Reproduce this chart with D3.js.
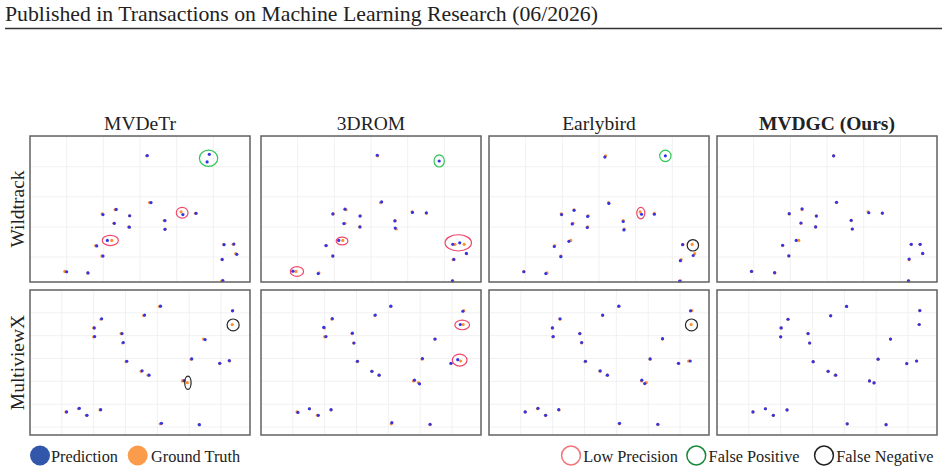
<!DOCTYPE html>
<html>
<head>
<meta charset="utf-8">
<script src="https://cdn.jsdelivr.net/npm/d3@7"></script>
<style>
	body{margin:0;background:#fff;}
	svg text{font-family:"Liberation Serif","DejaVu Serif",serif;fill:#222;}
</style>
</head>
<body>
<svg id="vis" width="948" height="472"></svg>
<script>
// columns / rows
var methods = ['MVDeTr','3DROM','Earlybird','MVDGC (Ours)'];
var datasets = ['Wildtrack','MultiviewX'];
var headerText = 'Published in Transactions on Machine Learning Research (06/2026)';

// ground plane grid (same units as the points)
var wtDomainX = [-1,5], wtDomainY = [-0.83,4.02];
var mxDomainX = [-1,5.91], mxDomainY = [-0.35,6.0];
var wtTicksX = [0,1,2,3,4,5], wtTicksY = [0,1,2,3,4];
var mxTicksX = [0,1,2,3,4,5], mxTicksY = [0,1,2,3,4,5];

// Wildtrack ground truth
var wtGT = [[2.18,3.36],[2.26,1.81],[1.32,1.57],[0.97,1.43],[1.71,1.37],[1.29,1.12],[1.69,1.00],[2.66,1.21],[2.69,0.93],[3.12,1.50],[3.51,1.45],[1.23,0.55],[0.79,0.38],[0.96,0.03],[-0.05,-0.48],[0.58,-0.53],[4.29,0.42],[4.54,0.42],[4.61,0.11],[4.24,-0.09],[4.23,-0.79]];
// Wildtrack predictions
var wtPredMVDeTr = [[2.20,3.37],[3.89,3.41],[3.83,3.16],[2.30,1.81],[1.35,1.58],[0.99,1.41],[1.72,1.37],[1.30,1.12],[1.71,0.99],[2.68,1.21],[2.68,0.92],[3.17,1.41],[3.53,1.45],[1.11,0.55],[0.82,0.37],[0.99,0.03],[0.00,-0.49],[0.58,-0.53],[4.29,0.41],[4.56,0.43],[4.64,0.09],[4.24,-0.08],[4.26,-0.78]];
var wtPred3DROM = [[2.17,3.38],[3.86,3.19],[2.29,1.83],[1.29,1.59],[0.96,1.43],[1.70,1.36],[1.26,1.11],[1.70,1.00],[2.65,1.20],[2.66,0.96],[3.13,1.48],[3.51,1.47],[1.12,0.55],[0.77,0.38],[0.96,0.03],[-0.13,-0.47],[0.56,-0.55],[4.23,0.42],[4.42,0.47],[4.60,0.12],[4.26,-0.08],[4.22,-0.79]];
var wtPredEarlybird = [[2.16,3.32],[3.81,3.36],[2.27,1.78],[1.32,1.55],[0.98,1.41],[1.69,1.35],[1.27,1.10],[1.68,0.98],[2.66,1.18],[2.68,0.90],[3.16,1.42],[3.51,1.42],[1.18,0.52],[0.78,0.35],[0.96,0.01],[-0.05,-0.49],[0.55,-0.55],[4.28,0.41],[4.57,0.05],[4.22,-0.12],[4.20,-0.80]];
var wtPredMVDGC = [[2.18,3.36],[2.26,1.82],[1.32,1.60],[0.97,1.44],[1.71,1.36],[1.29,1.13],[1.69,1.00],[2.66,1.22],[2.69,0.93],[3.14,1.47],[3.51,1.46],[1.16,0.55],[0.79,0.39],[0.96,0.04],[-0.06,-0.48],[0.57,-0.52],[4.30,0.42],[4.54,0.42],[4.61,0.12],[4.24,-0.07],[4.22,-0.79]];
// Wildtrack highlighted errors: kind, x, y, rx, ry
var wtMarksMVDeTr = [['fp',3.87,3.28,0.25,0.27],['lp',3.15,1.47,0.16,0.18],['lp',1.19,0.55,0.22,0.17]];
var wtMarks3DROM = [['fp',3.86,3.19,0.14,0.20],['lp',1.21,0.53,0.16,0.13],['lp',-0.02,-0.48,0.18,0.16],['lp',4.38,0.47,0.36,0.27]];
var wtMarksEarlybird = [['fp',3.81,3.36,0.155,0.19],['lp',3.14,1.46,0.11,0.19],['fn',4.56,0.39,0.155,0.19]];
var wtMarksMVDGC = [];

// MultiviewX ground truth
var mxGT = [[3.07,5.28],[5.37,5.10],[2.57,4.88],[1.23,4.72],[1.00,4.34],[5.35,4.49],[1.86,4.09],[1.00,3.95],[1.91,3.68],[4.45,3.85],[2.02,2.86],[4.06,2.97],[4.96,2.78],[5.27,2.89],[2.49,2.44],[2.71,2.27],[3.79,2.02],[3.94,1.94],[0.13,0.66],[0.52,0.80],[0.77,0.51],[1.20,0.75],[3.09,0.14],[4.31,0.10]];
// MultiviewX predictions
var mxPredMVDeTr = [[3.10,5.29],[5.36,5.09],[2.60,4.90],[1.25,4.74],[1.02,4.34],[1.89,4.09],[1.03,3.96],[1.93,3.70],[4.50,3.83],[2.04,2.88],[4.08,2.98],[4.96,2.79],[5.26,2.91],[2.52,2.46],[2.74,2.27],[3.84,2.03],[0.15,0.66],[0.55,0.82],[0.79,0.51],[1.22,0.76],[3.13,0.16],[4.32,0.10]];
var mxPred3DROM = [[3.08,5.29],[5.34,5.07],[2.59,4.90],[1.24,4.75],[0.97,4.36],[5.26,4.49],[1.87,4.11],[1.04,3.96],[1.92,3.68],[4.47,3.85],[2.03,2.88],[4.07,3.00],[4.97,2.79],[5.18,2.95],[2.48,2.44],[2.71,2.27],[3.82,2.05],[3.98,1.89],[0.16,0.64],[0.52,0.80],[0.80,0.51],[1.20,0.76],[3.11,0.19],[4.31,0.12]];
var mxPredEarlybird = [[3.08,5.29],[5.33,5.09],[2.57,4.90],[1.23,4.74],[0.99,4.34],[1.85,4.09],[1.02,3.96],[1.91,3.70],[4.45,3.87],[2.03,2.88],[4.06,2.98],[4.95,2.79],[5.32,2.89],[2.49,2.46],[2.72,2.27],[3.80,2.05],[3.89,1.90],[0.14,0.66],[0.54,0.82],[0.78,0.51],[1.19,0.76],[3.10,0.16],[4.30,0.12]];
var mxPredMVDGC = [[3.07,5.28],[5.37,5.10],[2.57,4.87],[1.23,4.72],[1.02,4.34],[5.35,4.49],[1.86,4.09],[1.00,3.95],[1.91,3.68],[4.45,3.85],[2.02,2.86],[4.06,2.97],[4.96,2.78],[5.27,2.89],[2.49,2.44],[2.73,2.27],[3.79,2.02],[3.93,1.93],[0.13,0.66],[0.52,0.80],[0.77,0.51],[1.20,0.75],[3.09,0.14],[4.31,0.10]];
// MultiviewX highlighted errors
var mxMarksMVDeTr = [['fn',5.38,4.47,0.19,0.26],['fn',3.96,1.94,0.10,0.29]];
var mxMarks3DROM = [['lp',5.32,4.47,0.23,0.21],['lp',5.24,2.93,0.23,0.26]];
var mxMarksEarlybird = [['fn',5.36,4.47,0.19,0.26]];
var mxMarksMVDGC = [];

// legend
var legendFilled = ['Prediction','Ground Truth'];
var legendRings = ['Low Precision','False Positive','False Negative'];

window.onload = function(){

	return {

		panel_left:[30,261,489,717],
		panel_w:220,
		row_top:[136,290],
		row_h:[146,145],

		dot_r:1.6,

		col:{pred:'#3434e4',gt:'#ff8f2e',lp:'#f0476a',fp:'#2fc656',fn:'#262626'},

		init:function(){
			var self = this;
			var rows = [
				{gt:wtGT,preds:[wtPredMVDeTr,wtPred3DROM,wtPredEarlybird,wtPredMVDGC],
					marks:[wtMarksMVDeTr,wtMarks3DROM,wtMarksEarlybird,wtMarksMVDGC],
					dx:wtDomainX,dy:wtDomainY,tx:wtTicksX,ty:wtTicksY},
				{gt:mxGT,preds:[mxPredMVDeTr,mxPred3DROM,mxPredEarlybird,mxPredMVDGC],
					marks:[mxMarksMVDeTr,mxMarks3DROM,mxMarksEarlybird,mxMarksMVDGC],
					dx:mxDomainX,dy:mxDomainY,tx:mxTicksX,ty:mxTicksY}
			];
			var panels = [];
			rows.forEach(function(r,ri){
				methods.forEach(function(m,mi){
					panels.push({row:ri,col:mi,gt:r.gt,pred:r.preds[mi],marks:r.marks[mi],
						dx:r.dx,dy:r.dy,tx:r.tx,ty:r.ty});
				});
			});
			self.generate(panels);
		},
		generate:function(panels){
			var self = this;
			var svg = d3.select('#vis');

			// page header
			svg.append('text')
				.attr('x',5)
				.attr('y',21)
				.attr('font-size',21.5)
				.attr('textLength',593)
				.attr('lengthAdjust','spacingAndGlyphs')
				.text(headerText);
			svg.append('line')
				.attr('x1',5).attr('x2',942)
				.attr('y1',28.5).attr('y2',28.5)
				.attr('stroke','#333')
				.attr('stroke-width',1.5);

			// column titles
			svg.selectAll('text.colTitle')
				.data(methods)
				.enter().append('text')
				.classed('colTitle',true)
				.attr('x',function(d,i){ return self.panel_left[i] +self.panel_w/2; })
				.attr('y',130)
				.attr('text-anchor','middle')
				.attr('font-size',19.5)
				.attr('font-weight',function(d,i){ return i === methods.length -1 ? 'bold' : 'normal'; })
				.text(function(d){ return d; });

			// row titles
			svg.selectAll('text.rowTitle')
				.data(datasets)
				.enter().append('text')
				.classed('rowTitle',true)
				.attr('transform',function(d,i){
					return 'translate(23.5,' +(self.row_top[i] +self.row_h[i]/2) +') rotate(-90)';
				})
				.attr('text-anchor','middle')
				.attr('font-size',19.5)
				.text(function(d){ return d; });

			var g = svg.selectAll('g.panel')
				.data(panels)
				.enter().append('g')
				.classed('panel',true);

			g.each(function(p){
				var pg = d3.select(this);
				var x0 = self.panel_left[p.col],
					y0 = self.row_top[p.row],
					h = self.row_h[p.row];
				var x = d3.scaleLinear().domain(p.dx).range([x0,x0 +self.panel_w]);
				var y = d3.scaleLinear().domain(p.dy).range([y0 +h,y0]);

				pg.append('rect')
					.attr('x',x0).attr('y',y0)
					.attr('width',self.panel_w).attr('height',h)
					.attr('fill','#fff');

				pg.selectAll('line.gx')
					.data(p.tx)
					.enter().append('line')
					.classed('gx',true)
					.attr('x1',function(d){ return x(d); })
					.attr('x2',function(d){ return x(d); })
					.attr('y1',y0).attr('y2',y0 +h)
					.attr('stroke','#f1f1f1')
					.attr('stroke-width',1);
				pg.selectAll('line.gy')
					.data(p.ty)
					.enter().append('line')
					.classed('gy',true)
					.attr('y1',function(d){ return y(d); })
					.attr('y2',function(d){ return y(d); })
					.attr('x1',x0).attr('x2',x0 +self.panel_w)
					.attr('stroke','#f1f1f1')
					.attr('stroke-width',1);

				pg.selectAll('circle.gt')
					.data(p.gt)
					.enter().append('circle')
					.classed('gt',true)
					.attr('cx',function(d){ return x(d[0]); })
					.attr('cy',function(d){ return y(d[1]); })
					.attr('r',self.dot_r)
					.attr('fill',self.col.gt);
				pg.selectAll('circle.pred')
					.data(p.pred)
					.enter().append('circle')
					.classed('pred',true)
					.attr('cx',function(d){ return x(d[0]); })
					.attr('cy',function(d){ return y(d[1]); })
					.attr('r',self.dot_r)
					.attr('fill',self.col.pred);

				pg.selectAll('ellipse.mark')
					.data(p.marks)
					.enter().append('ellipse')
					.classed('mark',true)
					.attr('cx',function(d){ return x(d[1]); })
					.attr('cy',function(d){ return y(d[2]); })
					.attr('rx',function(d){ return x(d[1] +d[3]) -x(d[1]); })
					.attr('ry',function(d){ return y(d[2]) -y(d[2] +d[4]); })
					.attr('fill','none')
					.attr('stroke',function(d){ return self.col[d[0]]; })
					.attr('stroke-width',1.2);

				pg.append('rect')
					.attr('x',x0).attr('y',y0)
					.attr('width',self.panel_w).attr('height',h)
					.attr('fill','none')
					.attr('stroke','#626262')
					.attr('stroke-width',1.5);
			});

			// legend, left: filled dots
			var lf = svg.selectAll('g.legF')
				.data(legendFilled)
				.enter().append('g')
				.classed('legF',true)
				.attr('transform',function(d,i){ return 'translate(' +[40,137.7][i] +',455.5)'; });
			lf.append('circle')
				.attr('r',10)
				.attr('fill',function(d,i){ return ['#3257aa','#fb9b4c'][i]; });
			lf.append('text')
				.attr('x',function(d,i){ return [11,13.3][i]; })
				.attr('y',6.5)
				.attr('font-size',16.3)
				.text(function(d){ return d; });

			// legend, right: rings
			var lr = svg.selectAll('g.legR')
				.data(legendRings)
				.enter().append('g')
				.classed('legR',true)
				.attr('transform',function(d,i){ return 'translate(' +[571,696.3,824][i] +',455.5)'; });
			lr.append('circle')
				.attr('r',9.4)
				.attr('fill','none')
				.attr('stroke-width',1.5)
				.attr('stroke',function(d,i){ return ['#f27479','#17883b','#222'][i]; });
			lr.append('text')
				.attr('x',12.3)
				.attr('y',6.5)
				.attr('font-size',16.3)
				.text(function(d){ return d; });
		}
	}
}().init();
</script>
</body>
</html>
